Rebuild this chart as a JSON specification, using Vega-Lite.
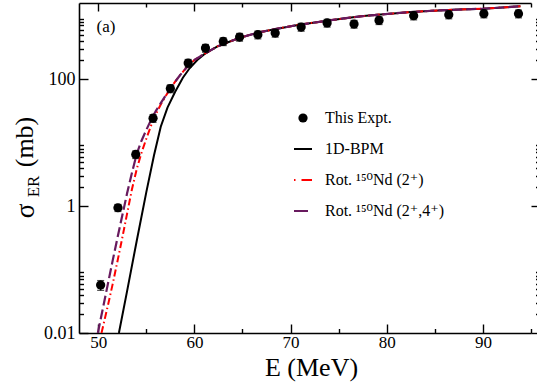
{
  "$schema": "https://vega.github.io/schema/vega-lite/v6.json",
  "width": 452,
  "height": 330,
  "autosize": {"type": "none"},
  "padding": {"left": 79, "top": 3, "right": 6, "bottom": 49},
  "background": "white",
  "config": {
    "view": {"stroke": null},
    "font": "Liberation Serif",
    "axis": {
      "labelFont": "Liberation Serif", "titleFont": "Liberation Serif",
      "labelColor": "black", "titleColor": "black", "tickColor": "black", "domainColor": "black",
      "titleFontWeight": "normal", "grid": false, "tickWidth": 1.4, "domainWidth": 1.6,
      "labelFontSize": 18, "titleFontSize": 26
    }
  },
  "title": {"text": "(a)", "anchor": "start", "frame": "group", "orient": "top", "offset": 0, "dx": 17.5, "dy": 46.5, "baseline": "alphabetic", "font": "Liberation Serif", "fontSize": 17, "fontWeight": "normal", "color": "black"},
  "datasets": {
    "expt": [
      {"E": 50.25, "s": 0.057, "lo": 0.047, "hi": 0.067},
      {"E": 52.05, "s": 0.94, "lo": 0.82, "hi": 1.06},
      {"E": 53.9, "s": 6.5, "lo": 5.6, "hi": 7.4},
      {"E": 55.7, "s": 24.2, "lo": 20.8, "hi": 27.6},
      {"E": 57.5, "s": 71, "lo": 61, "hi": 81},
      {"E": 59.35, "s": 179, "lo": 154, "hi": 204},
      {"E": 61.15, "s": 308, "lo": 265, "hi": 351},
      {"E": 63.0, "s": 392, "lo": 337, "hi": 447},
      {"E": 64.7, "s": 460, "lo": 396, "hi": 524},
      {"E": 66.6, "s": 500, "lo": 430, "hi": 570},
      {"E": 68.4, "s": 532, "lo": 458, "hi": 606},
      {"E": 71.1, "s": 661, "lo": 568, "hi": 754},
      {"E": 73.8, "s": 766, "lo": 659, "hi": 873},
      {"E": 76.6, "s": 738, "lo": 635, "hi": 841},
      {"E": 79.2, "s": 841, "lo": 723, "hi": 959},
      {"E": 82.8, "s": 997, "lo": 857, "hi": 1137},
      {"E": 86.45, "s": 1035, "lo": 890, "hi": 1180},
      {"E": 90.1, "s": 1072, "lo": 922, "hi": 1222},
      {"E": 93.7, "s": 1072, "lo": 922, "hi": 1222}
    ],
    "bpm": [
      {"E": 52.15, "s": 0.01}, {"E": 53, "s": 0.0457}, {"E": 54, "s": 0.282}, {"E": 55, "s": 1.66},
      {"E": 55.8, "s": 6.31}, {"E": 56.5, "s": 17.8}, {"E": 57.2, "s": 35.5}, {"E": 58, "s": 63.1},
      {"E": 58.8, "s": 105}, {"E": 59.5, "s": 148}, {"E": 60.3, "s": 200}, {"E": 61, "s": 245},
      {"E": 61.5, "s": 273}, {"E": 62.4, "s": 327}, {"E": 63.5, "s": 380}, {"E": 64.45, "s": 432},
      {"E": 65.5, "s": 484}, {"E": 66.9, "s": 552}, {"E": 68.5, "s": 617}, {"E": 70.3, "s": 693},
      {"E": 72, "s": 759}, {"E": 73.8, "s": 832}, {"E": 75.5, "s": 902}, {"E": 77.3, "s": 973},
      {"E": 79, "s": 1028}, {"E": 80.4, "s": 1074}, {"E": 82.5, "s": 1135}, {"E": 84.9, "s": 1197},
      {"E": 87.5, "s": 1245}, {"E": 90.1, "s": 1288}, {"E": 92, "s": 1343}, {"E": 93.9, "s": 1400}
    ],
    "rot2": [
      {"E": 50.34, "s": 0.01}, {"E": 51, "s": 0.0269}, {"E": 51.5, "s": 0.0589}, {"E": 52, "s": 0.135},
      {"E": 52.5, "s": 0.316}, {"E": 53, "s": 0.759}, {"E": 53.5, "s": 1.82}, {"E": 54, "s": 3.8},
      {"E": 54.5, "s": 6.92}, {"E": 55, "s": 11.5}, {"E": 55.5, "s": 18.6}, {"E": 56, "s": 28.2},
      {"E": 56.5, "s": 39.8}, {"E": 57, "s": 53.7}, {"E": 57.5, "s": 70.8}, {"E": 58, "s": 91.2},
      {"E": 58.5, "s": 115}, {"E": 59, "s": 141}, {"E": 59.5, "s": 170}, {"E": 60, "s": 200},
      {"E": 60.6, "s": 228}, {"E": 61.5, "s": 273}, {"E": 62.4, "s": 327}, {"E": 63.5, "s": 380},
      {"E": 64.45, "s": 432}, {"E": 65.5, "s": 484}, {"E": 66.9, "s": 552}, {"E": 68.5, "s": 617},
      {"E": 70.3, "s": 693}, {"E": 72, "s": 759}, {"E": 73.8, "s": 832}, {"E": 75.5, "s": 902},
      {"E": 77.3, "s": 973}, {"E": 79, "s": 1028}, {"E": 80.4, "s": 1074}, {"E": 82.5, "s": 1135},
      {"E": 84.9, "s": 1197}, {"E": 87.5, "s": 1245}, {"E": 90.1, "s": 1288}, {"E": 92, "s": 1343},
      {"E": 93.9, "s": 1400}
    ],
    "rot24": [
      {"E": 49.96, "s": 0.01}, {"E": 50.5, "s": 0.0251}, {"E": 51, "s": 0.0589}, {"E": 51.5, "s": 0.138},
      {"E": 52, "s": 0.316}, {"E": 52.5, "s": 0.708}, {"E": 53, "s": 1.585}, {"E": 53.5, "s": 3.31},
      {"E": 54, "s": 6.61}, {"E": 54.5, "s": 10.7}, {"E": 55, "s": 15.8}, {"E": 55.5, "s": 22.9},
      {"E": 56, "s": 31.6}, {"E": 56.5, "s": 41.7}, {"E": 57, "s": 55}, {"E": 57.5, "s": 72.4},
      {"E": 58, "s": 91.2}, {"E": 58.5, "s": 115}, {"E": 59, "s": 141}, {"E": 59.5, "s": 170},
      {"E": 60, "s": 200}, {"E": 60.6, "s": 228}, {"E": 61.5, "s": 273}, {"E": 62.4, "s": 327},
      {"E": 63.5, "s": 380}, {"E": 64.45, "s": 432}, {"E": 65.5, "s": 484}, {"E": 66.9, "s": 552},
      {"E": 68.5, "s": 617}, {"E": 70.3, "s": 693}, {"E": 72, "s": 759}, {"E": 73.8, "s": 832},
      {"E": 75.5, "s": 902}, {"E": 77.3, "s": 973}, {"E": 79, "s": 1028}, {"E": 80.4, "s": 1074},
      {"E": 82.5, "s": 1135}, {"E": 84.9, "s": 1197}, {"E": 87.5, "s": 1245}, {"E": 90.1, "s": 1288},
      {"E": 92, "s": 1343}, {"E": 93.9, "s": 1400}
    ]
  },
  "layer": [
    {
      "data": {"name": "bpm"},
      "transform": [{"calculate": "'1D-BPM'", "as": "series"}],
      "mark": {"type": "line", "strokeWidth": 2, "clip": true},
      "encoding": {
        "x": {"field": "E", "type": "quantitative", "scale": {"domain": [48, 95], "nice": false, "zero": false},
          "axis": {"orient": "bottom", "values": [50, 60, 70, 80, 90], "tickSize": -9, "labels": false, "domain": false, "title": null}},
        "y": {"field": "s", "type": "quantitative", "scale": {"type": "log", "domain": [0.01, 1580], "nice": false},
          "axis": {"orient": "left", "values": [0.01, 1, 100], "tickSize": -9, "labels": false, "domain": false,
            "title": "ER", "titleFontSize": 17, "titleX": -41, "titleY": 183, "titleAngle": 270, "titleAlign": "center", "titleBaseline": "alphabetic"}},
        "color": {"field": "series", "type": "nominal", "title": null,
          "scale": {"domain": ["This Expt.", "1D-BPM", "Rot. ¹⁵⁰Nd (2⁺)", "Rot. ¹⁵⁰Nd (2⁺,4⁺)"], "range": ["black", "black", "#ff0000", "#681a5e"]},
          "legend": {"orient": "none", "legendX": 216, "legendY": 107, "title": null, "padding": 0,
            "labelFont": "Liberation Serif, DejaVu Serif", "labelFontSize": 16, "labelColor": "black", "labelOffset": 14, "labelLimit": 300,
            "rowPadding": 15, "symbolSize": 324, "symbolType": "stroke", "symbolStrokeWidth": 2,
            "encode": {"symbols": {"update": {
              "shape": {"signal": "datum.index === 0 ? 'circle' : 'stroke'"},
              "size": {"signal": "datum.index === 0 ? 85 : 324"},
              "fill": {"signal": "datum.index === 0 ? 'black' : 'transparent'"},
              "stroke": {"scale": "color", "field": "value"},
              "strokeWidth": {"signal": "datum.index === 0 ? 0 : 2"},
              "strokeDash": {"signal": "datum.index === 2 ? [1.5, 6, 11] : (datum.index === 3 ? [14, 5] : [1, 0])"},
              "opacity": {"value": 1}
            }}}}}
      }
    },
    {
      "data": {"name": "rot2"},
      "transform": [{"calculate": "'Rot. ¹⁵⁰Nd (2⁺)'", "as": "series"}],
      "mark": {"type": "line", "strokeWidth": 2, "strokeDash": [7, 3, 1.5, 3], "clip": true},
      "encoding": {
        "x": {"field": "E", "type": "quantitative", "scale": {"domain": [48, 95], "nice": false, "zero": false},
          "axis": {"orient": "bottom", "values": [55, 65, 75, 85, 95], "tickSize": -4.5, "labels": false, "domain": false, "title": null}},
        "y": {"field": "s", "type": "quantitative", "scale": {"type": "log", "domain": [0.01, 1580], "nice": false},
          "axis": {"orient": "left", "values": [0.02, 0.03, 0.04, 0.05, 0.06, 0.07, 0.08, 0.09, 2, 3, 4, 5, 6, 7, 8, 9, 200, 300, 400, 500, 600, 700, 800, 900],
            "tickSize": -4.5, "labels": false, "domain": false,
            "title": "(mb)", "titleFontSize": 26, "titleX": -47, "titleY": 138.5, "titleAngle": 270, "titleAlign": "center", "titleBaseline": "alphabetic"}},
        "color": {"field": "series", "type": "nominal", "title": null,
          "scale": {"domain": ["This Expt.", "1D-BPM", "Rot. ¹⁵⁰Nd (2⁺)", "Rot. ¹⁵⁰Nd (2⁺,4⁺)"], "range": ["black", "black", "#ff0000", "#681a5e"]},
          "legend": {"orient": "none", "legendX": 216, "legendY": 107, "title": null, "padding": 0,
            "labelFont": "Liberation Serif, DejaVu Serif", "labelFontSize": 16, "labelColor": "black", "labelOffset": 14, "labelLimit": 300,
            "rowPadding": 15, "symbolSize": 324, "symbolType": "stroke", "symbolStrokeWidth": 2,
            "encode": {"symbols": {"update": {
              "shape": {"signal": "datum.index === 0 ? 'circle' : 'stroke'"},
              "size": {"signal": "datum.index === 0 ? 85 : 324"},
              "fill": {"signal": "datum.index === 0 ? 'black' : 'transparent'"},
              "stroke": {"scale": "color", "field": "value"},
              "strokeWidth": {"signal": "datum.index === 0 ? 0 : 2"},
              "strokeDash": {"signal": "datum.index === 2 ? [1.5, 6, 11] : (datum.index === 3 ? [14, 5] : [1, 0])"},
              "opacity": {"value": 1}
            }}}}}
      }
    },
    {
      "data": {"name": "rot24"},
      "transform": [{"calculate": "'Rot. ¹⁵⁰Nd (2⁺,4⁺)'", "as": "series"}],
      "mark": {"type": "line", "strokeWidth": 2.2, "strokeDash": [10, 4], "clip": true},
      "encoding": {
        "x": {"field": "E", "type": "quantitative", "scale": {"domain": [48, 95], "nice": false, "zero": false},
          "axis": {"orient": "top", "values": [50, 60, 70, 80, 90], "tickSize": -8, "labels": false, "domain": true, "title": null}},
        "y": {"field": "s", "type": "quantitative", "scale": {"type": "log", "domain": [0.01, 1580], "nice": false},
          "axis": {"orient": "right", "offset": 9, "values": [0.01, 1, 100], "tickSize": -9, "labels": false, "domain": false, "title": null}},
        "color": {"field": "series", "type": "nominal", "title": null,
          "scale": {"domain": ["This Expt.", "1D-BPM", "Rot. ¹⁵⁰Nd (2⁺)", "Rot. ¹⁵⁰Nd (2⁺,4⁺)"], "range": ["black", "black", "#ff0000", "#681a5e"]},
          "legend": {"orient": "none", "legendX": 216, "legendY": 107, "title": null, "padding": 0,
            "labelFont": "Liberation Serif, DejaVu Serif", "labelFontSize": 16, "labelColor": "black", "labelOffset": 14, "labelLimit": 300,
            "rowPadding": 15, "symbolSize": 324, "symbolType": "stroke", "symbolStrokeWidth": 2,
            "encode": {"symbols": {"update": {
              "shape": {"signal": "datum.index === 0 ? 'circle' : 'stroke'"},
              "size": {"signal": "datum.index === 0 ? 85 : 324"},
              "fill": {"signal": "datum.index === 0 ? 'black' : 'transparent'"},
              "stroke": {"scale": "color", "field": "value"},
              "strokeWidth": {"signal": "datum.index === 0 ? 0 : 2"},
              "strokeDash": {"signal": "datum.index === 2 ? [1.5, 6, 11] : (datum.index === 3 ? [14, 5] : [1, 0])"},
              "opacity": {"value": 1}
            }}}}}
      }
    },
    {
      "data": {"name": "expt"},
      "mark": {"type": "rule", "color": "black", "strokeWidth": 1.3},
      "encoding": {
        "x": {"field": "E", "type": "quantitative", "scale": {"domain": [48, 95], "nice": false, "zero": false},
          "axis": {"orient": "top", "values": [55, 65, 75, 85, 95], "tickSize": -4, "labels": false, "domain": false, "title": null}},
        "y": {"field": "lo", "type": "quantitative", "scale": {"type": "log", "domain": [0.01, 1580], "nice": false},
          "axis": {"orient": "right", "offset": 9, "values": [0.02, 0.03, 0.04, 0.05, 0.06, 0.07, 0.08, 0.09, 2, 3, 4, 5, 6, 7, 8, 9, 200, 300, 400, 500, 600, 700, 800, 900],
            "tickSize": -4.5, "labels": false, "domain": false, "title": null}},
        "y2": {"field": "hi"}
      }
    },
    {
      "data": {"name": "expt"},
      "mark": {"type": "tick", "orient": "horizontal", "size": 7, "thickness": 1.2, "color": "black"},
      "encoding": {
        "x": {"field": "E", "type": "quantitative", "scale": {"domain": [48, 95], "nice": false, "zero": false}, "axis": null},
        "y": {"field": "lo", "type": "quantitative", "scale": {"type": "log", "domain": [0.01, 1580], "nice": false}, "axis": null}
      }
    },
    {
      "data": {"name": "expt"},
      "mark": {"type": "tick", "orient": "horizontal", "size": 7, "thickness": 1.2, "color": "black"},
      "encoding": {
        "x": {"field": "E", "type": "quantitative", "scale": {"domain": [48, 95], "nice": false, "zero": false}, "axis": null},
        "y": {"field": "hi", "type": "quantitative", "scale": {"type": "log", "domain": [0.01, 1580], "nice": false}, "axis": null}
      }
    },
    {
      "data": {"name": "expt"},
      "transform": [{"calculate": "'This Expt.'", "as": "series"}],
      "mark": {"type": "point", "filled": true, "size": 85, "opacity": 1, "strokeWidth": 0},
      "encoding": {
        "x": {"field": "E", "type": "quantitative", "scale": {"domain": [48, 95], "nice": false, "zero": false},
          "axis": {"orient": "bottom", "values": [50, 60, 70, 80, 90], "ticks": false, "labels": true, "labelFontSize": 17, "labelPadding": 1, "labelFlush": false,
            "domain": true, "title": "E (MeV)", "titleX": 232, "titleY": 42, "titleAlign": "center", "titleBaseline": "alphabetic"}},
        "y": {"field": "s", "type": "quantitative", "scale": {"type": "log", "domain": [0.01, 1580], "nice": false},
          "axis": {"orient": "left", "values": [0.01, 1, 100], "format": "~g", "ticks": false, "labels": true, "labelPadding": 4, "labelFlush": false,
            "domain": true, "title": "σ", "titleFontSize": 27, "titleX": -46, "titleY": 207.5, "titleAngle": 270, "titleAlign": "center", "titleBaseline": "alphabetic"}},
        "color": {"field": "series", "type": "nominal", "title": null,
          "scale": {"domain": ["This Expt.", "1D-BPM", "Rot. ¹⁵⁰Nd (2⁺)", "Rot. ¹⁵⁰Nd (2⁺,4⁺)"], "range": ["black", "black", "#ff0000", "#681a5e"]},
          "legend": {"orient": "none", "legendX": 216, "legendY": 107, "title": null, "padding": 0,
            "labelFont": "Liberation Serif, DejaVu Serif", "labelFontSize": 16, "labelColor": "black", "labelOffset": 14, "labelLimit": 300,
            "rowPadding": 15, "symbolSize": 324, "symbolType": "stroke", "symbolStrokeWidth": 2,
            "encode": {"symbols": {"update": {
              "shape": {"signal": "datum.index === 0 ? 'circle' : 'stroke'"},
              "size": {"signal": "datum.index === 0 ? 85 : 324"},
              "fill": {"signal": "datum.index === 0 ? 'black' : 'transparent'"},
              "stroke": {"scale": "color", "field": "value"},
              "strokeWidth": {"signal": "datum.index === 0 ? 0 : 2"},
              "strokeDash": {"signal": "datum.index === 2 ? [1.5, 6, 11] : (datum.index === 3 ? [14, 5] : [1, 0])"},
              "opacity": {"value": 1}
            }}}}}
      }
    }
  ],
  "resolve": {"scale": {"x": "shared", "y": "shared", "color": "shared"}, "axis": {"x": "independent", "y": "independent"}}
}
